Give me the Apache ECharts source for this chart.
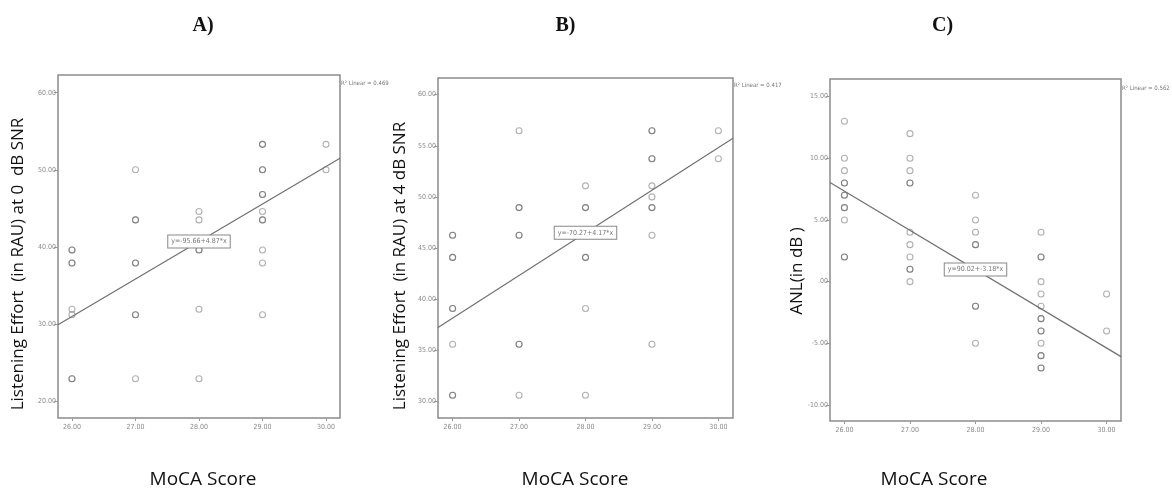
<!DOCTYPE html>
<html>
<head>
<meta charset="utf-8">
<script src="https://cdn.jsdelivr.net/npm/echarts@6/dist/echarts.min.js"></script>
<style>
  html, body { margin: 0; padding: 0; background: #fff; }
  #chart { width: 1172px; height: 489px; }
</style>
</head>
<body>
<div id="chart"></div>
<script>
// MoCA score on x, one panel per outcome
const mocaTicks = [26, 27, 28, 29, 30];

// A) Listening effort at 0 dB SNR
const mocaA = [26, 26, 26, 26, 26, 26, 26, 26,
               27, 27, 27, 27, 27, 27, 27, 27,
               28, 28, 28, 28, 28, 28,
               29, 29, 29, 29, 29, 29, 29, 29, 29, 29, 29, 29,
               30, 30];
const effortA = [39.6, 39.6, 37.9, 37.9, 31.9, 31.2, 22.9, 22.9,
                 50.0, 43.5, 43.5, 37.9, 37.9, 31.2, 31.2, 22.9,
                 44.6, 43.5, 39.6, 39.6, 31.9, 22.9,
                 53.3, 53.3, 50.0, 50.0, 46.8, 46.8, 44.6, 43.5, 43.5, 39.6, 37.9, 31.2,
                 53.3, 50.0];
const ticksA = [20, 30, 40, 50, 60];

// B) Listening effort at 4 dB SNR
const mocaB = [26, 26, 26, 26, 26, 26, 26, 26, 26,
               27, 27, 27, 27, 27, 27, 27, 27,
               28, 28, 28, 28, 28, 28, 28,
               29, 29, 29, 29, 29, 29, 29, 29, 29, 29,
               30, 30];
const effortB = [46.24, 46.24, 44.08, 44.08, 39.08, 39.08, 35.59, 30.59, 30.59,
                 56.47, 48.95, 48.95, 46.24, 46.24, 35.59, 35.59, 30.59,
                 51.08, 48.95, 48.95, 44.08, 44.08, 39.08, 30.59,
                 56.47, 56.47, 53.73, 53.73, 51.08, 50.0, 48.95, 48.95, 46.24, 35.59,
                 56.47, 53.73];
const ticksB = [30, 35, 40, 45, 50, 55, 60];

// C) ANL
const mocaC = [26, 26, 26, 26, 26, 26, 26, 26, 26, 26, 26, 26,
               27, 27, 27, 27, 27, 27, 27, 27, 27, 27, 27,
               28, 28, 28, 28, 28, 28, 28, 28,
               29, 29, 29, 29, 29, 29, 29, 29, 29, 29, 29, 29, 29, 29, 29,
               30, 30];
const anlC = [13, 10, 9, 8, 8, 7, 7, 6, 6, 5, 2, 2,
              12, 10, 9, 8, 8, 4, 3, 2, 1, 1, 0,
              7, 5, 4, 3, 3, -2, -2, -5,
              4, 2, 2, 0, -1, -2, -3, -3, -4, -4, -5, -6, -6, -7, -7,
              -1, -4];
const ticksC = [-10, -5, 0, 5, 10, 15];

// fit lines as printed in the panels
const intercepts = [-95.66, -70.27, 90.02];
const slopes = [4.87, 4.17, -3.18];
const equations = ['y=-95.66+4.87*x', 'y=-70.27+4.17*x', 'y=90.02+-3.18*x'];
const r2Values = ['0.469', '0.417', '0.562'];
const panelTitles = ['A)', 'B)', 'C)'];
const yNames = ['Listening Effort  (in RAU) at 0  dB SNR',
                'Listening Effort  (in RAU) at 4 dB SNR',
                'ANL(in dB )'];
const xName = 'MoCA Score';

const chart = echarts.init(document.getElementById('chart'));

// layout of the three boxes
const grids = [
  { left: 58, top: 75, width: 282, height: 343 },
  { left: 438, top: 78, width: 295, height: 340 },
  { left: 830, top: 79, width: 291, height: 342 }
];
const yRanges = [[17.8, 62.3], [28.37, 61.63], [-11.3, 16.43]];
const xRange = [25.78, 30.22];
const yTicks = [ticksA, ticksB, ticksC];
const points = [[mocaA, effortA], [mocaB, effortB], [mocaC, anlC]];

const narrow = '"DejaVu Sans Condensed", "Liberation Sans", sans-serif';
const tickFmt = v => (v === 0 ? '.00' : v.toFixed(2));
const smallFont = { fontFamily: narrow, fontSize: 7, color: '#8a8a8a' };

const xAxes = grids.map((g, i) => ({
  type: 'value', gridIndex: i, min: xRange[0], max: xRange[1],
  axisLine: { show: false, onZero: false },
  splitLine: { show: false },
  axisTick: { show: true, length: 3, customValues: mocaTicks, lineStyle: { color: '#999' } },
  axisLabel: { ...smallFont, margin: 6, customValues: mocaTicks, formatter: tickFmt }
}));

const yAxes = grids.map((g, i) => ({
  type: 'value', gridIndex: i, min: yRanges[i][0], max: yRanges[i][1],
  axisLine: { show: false, onZero: false },
  splitLine: { show: false },
  axisTick: { show: true, length: 4, customValues: yTicks[i], lineStyle: { color: '#999' } },
  axisLabel: { ...smallFont, margin: 2, customValues: yTicks[i], formatter: tickFmt }
}));

const series = [];
points.forEach((p, i) => {
  series.push({
    type: 'scatter', xAxisIndex: i, yAxisIndex: i,
    symbol: 'circle', symbolSize: 6,
    itemStyle: { color: 'rgba(0,0,0,0)', borderColor: 'rgba(60,60,60,0.5)', borderWidth: 1.1 },
    data: p[0].map((x, k) => [x, p[1][k]])
  });
  const fit = x => intercepts[i] + slopes[i] * x;
  series.push({
    type: 'line', xAxisIndex: i, yAxisIndex: i,
    symbol: 'none', silent: true,
    lineStyle: { color: '#707070', width: 1.2 },
    data: [[xRange[0], fit(xRange[0])], [xRange[1], fit(xRange[1])]],
    markPoint: {
      symbol: 'rect', symbolSize: 0,
      data: [{ coord: [28, fit(28)] }],
      label: {
        show: true, position: 'inside', formatter: equations[i],
        fontFamily: narrow, fontSize: 7, color: '#777',
        backgroundColor: '#fff', borderColor: '#888', borderWidth: 1,
        padding: [3, 3, 2, 3]
      }
    }
  });
});

const graphic = [];
grids.forEach((g, i) => {
  // panel letter
  graphic.push({
    type: 'text', x: g.left + g.width / 2 + [4, -20, -33][i], y: 26,
    style: { text: panelTitles[i], font: 'bold 20px "Liberation Serif"', fill: '#111',
             align: 'center', verticalAlign: 'middle' }
  });
  // y axis name
  graphic.push({
    type: 'text', x: [18, 400, 797][i], y: [264, 266, 271][i], rotation: Math.PI / 2,
    style: { text: yNames[i], font: '17px "Open Sans"', fill: '#111',
             align: 'center', verticalAlign: 'middle' }
  });
  // x axis name
  graphic.push({
    type: 'text', x: [203, 575, 934][i], y: 480,
    style: { text: xName, font: '19px "Open Sans"', fill: '#111',
             align: 'center', verticalAlign: 'middle' }
  });
  // R squared note
  graphic.push({
    type: 'text', x: g.left + g.width + 1, y: [83, 85, 88][i],
    style: { text: 'R\u00b2 Linear = ' + r2Values[i], font: '6px ' + narrow,
             fill: '#777', align: 'left', verticalAlign: 'middle' }
  });
});

const option = {
  animation: false,
  backgroundColor: '#fff',
  grid: grids.map(g => ({ ...g, show: true, borderColor: '#8c8c8c', borderWidth: 1.5, backgroundColor: 'transparent' })),
  xAxis: xAxes,
  yAxis: yAxes,
  series: series,
  graphic: graphic
};

chart.setOption(option);
</script>
</body>
</html>
